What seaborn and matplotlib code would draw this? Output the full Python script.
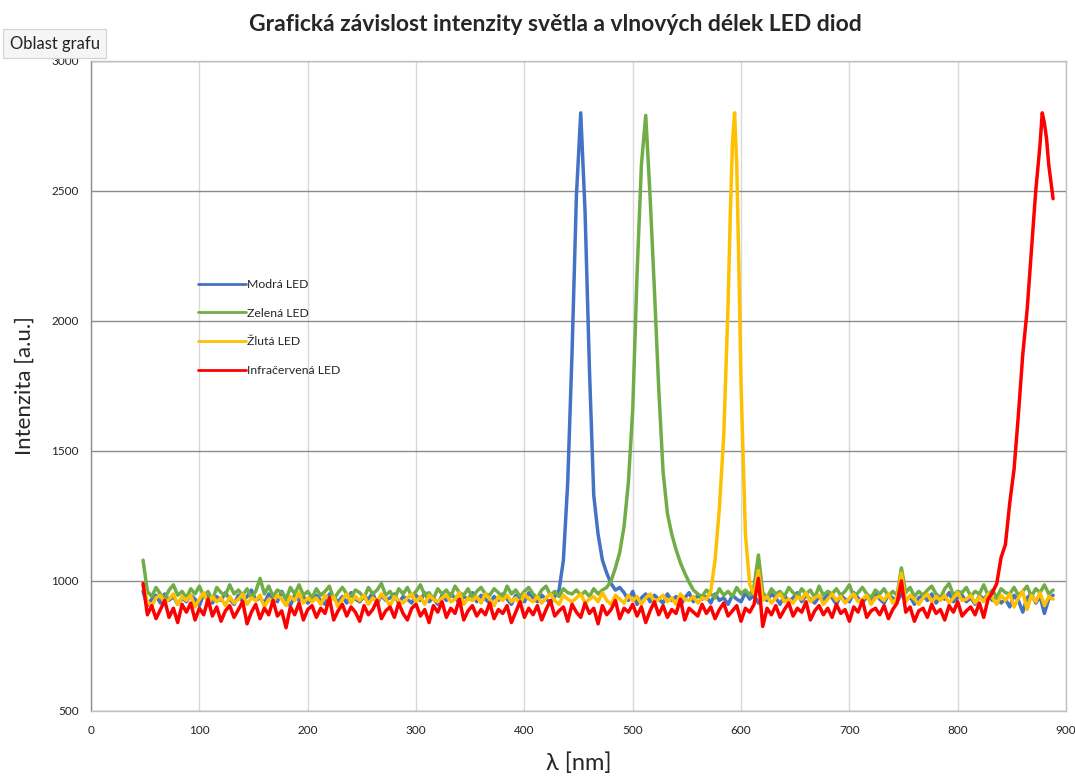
import numpy as np
import pandas as pd
import matplotlib
matplotlib.use("Agg")
import matplotlib.pyplot as plt
import seaborn as sns

start_nm = 48
step_nm = 4

blue = [
    960, 905, 930, 945, 915, 950, 925, 940, 910, 935,
    920, 945, 930, 905, 950, 935, 915, 940, 925, 955,
    930, 910, 945, 920, 940, 965, 925, 935, 915, 950,
    935, 920, 960, 930, 905, 945, 925, 940, 915, 930,
    945, 925, 910, 950, 935, 920, 940, 915, 955, 930,
    920, 940, 930, 955, 910, 945, 925, 935, 950, 915,
    940, 930, 915, 945, 925, 955, 920, 935, 910, 945,
    925, 950, 935, 915, 940, 930, 955, 920, 945, 930,
    915, 940, 925, 950, 930, 910, 945, 935, 920, 955,
    935, 920, 945, 930, 915, 940, 965, 1080, 1380, 1880,
    2480, 2800, 2420, 1820, 1330, 1180, 1080, 1030, 990, 965,
    975, 955, 925, 960, 910, 935, 950, 920, 945, 930,
    915, 950, 925, 940, 905, 935, 955, 920, 945, 930,
    940, 915, 950, 925, 935, 910, 945, 930, 920, 955,
    930, 945, 915, 940, 925, 950, 935, 910, 945, 920,
    935, 955, 920, 945, 930, 915, 940, 925, 950, 935,
    910, 945, 930, 920, 955, 935, 915, 940, 925, 950,
    930, 915, 945, 935, 920, 950, 925, 940, 910, 935,
    945, 925, 950, 915, 940, 930, 955, 920, 935, 945,
    920, 935, 910, 945, 930, 950, 925, 940, 915, 930,
    900, 945, 925, 880, 935, 950, 915, 940, 875, 930,
    945,
]

green = [
    1080, 960, 940, 975, 950, 930, 965, 985, 945, 960,
    935, 970, 950, 980, 940, 960, 925, 975, 955, 945,
    985, 950, 965, 945, 970, 935, 960, 1010, 950, 980,
    940, 965, 955, 930, 975, 950, 985, 945, 960, 935,
    970, 945, 960, 980, 930, 955, 975, 950, 940, 965,
    955, 935, 975, 950, 965, 990, 945, 960, 930, 970,
    950, 975, 940, 960, 985, 945, 955, 930, 970, 950,
    965, 940, 980, 955, 945, 970, 935, 960, 975, 950,
    945, 970, 955, 935, 980, 950, 965, 940, 960, 975,
    950, 935, 965, 980, 945, 960, 940, 970, 955, 950,
    965, 945, 960, 940, 970, 950, 965, 975, 1000, 1050,
    1110, 1210, 1380, 1660, 2180, 2600, 2790, 2480, 2120, 1740,
    1420, 1260, 1180, 1120, 1070, 1030, 995, 965, 950, 940,
    965, 950, 935, 970, 945, 960, 940, 975, 950, 965,
    945, 980, 1100, 955, 935, 970, 950, 960, 940, 975,
    955, 940, 970, 950, 965, 935, 980, 945, 960, 950,
    970, 945, 960, 985, 940, 955, 975, 950, 935, 965,
    950, 970, 940, 960, 945, 1050, 955, 975, 940, 960,
    945, 965, 980, 950, 935, 970, 990, 945, 960, 955,
    975, 940, 960, 950, 985, 945, 965, 935, 970, 955,
    950, 975, 945, 960, 980, 940, 970, 955, 985, 950,
    965,
]

yellow = [
    985, 920, 905, 935, 945, 915, 930, 950, 910, 940,
    925, 945, 900, 930, 955, 915, 940, 920, 935, 905,
    940, 915, 930, 950, 910, 935, 925, 945, 900, 930,
    920, 945, 930, 905, 940, 925, 955, 915, 935, 920,
    935, 910, 945, 925, 940, 900, 930, 950, 915, 940,
    925, 945, 910, 935, 920, 950, 930, 905, 940, 925,
    915, 935, 950, 920, 940, 910, 945, 930, 920, 935,
    945, 920, 930, 955, 910, 935, 925, 940, 915, 950,
    930, 905, 940, 925, 945, 920, 935, 910, 950, 930,
    920, 940, 915, 935, 950, 925, 910, 945, 930, 920,
    935, 950, 915, 930, 940, 920, 955, 925, 910, 945,
    930, 915, 945, 925, 940, 910, 935, 950, 920, 930,
    945, 920, 935, 910, 950, 930, 925, 940, 915, 935,
    930, 960, 1080, 1280, 1560, 2060, 2680, 2600, 1750, 1180,
    985, 950, 1040, 925, 940, 915, 935, 950, 920, 930,
    915, 940, 930, 955, 920, 935, 945, 910, 930, 950,
    925, 940, 915, 935, 950, 920, 930, 945, 910, 935,
    940, 925, 950, 915, 935, 1030, 920, 945, 930, 910,
    935, 950, 920, 940, 925, 945, 915, 935, 955, 925,
    930, 945, 915, 940, 920, 950, 935, 910, 945, 925,
    950, 900, 935, 960, 890, 945, 920, 955, 905, 940,
    930,
]

red = [
    990, 870, 905, 855, 890, 925, 860, 895, 840, 910,
    880, 915, 850, 895, 870, 930, 865, 900, 845, 885,
    905, 860, 890, 920, 835, 880, 910, 855, 895, 870,
    925, 865, 885, 820, 900, 870, 915, 850, 890, 905,
    860, 895, 875, 935, 850, 885, 910, 865, 900, 880,
    845, 905, 870, 890, 925, 855, 885, 900, 860, 915,
    875, 850, 895, 910, 865, 890, 840, 905, 880, 920,
    860, 895, 875, 930, 850, 885, 905, 865, 890, 870,
    915, 855, 890, 875, 905, 840, 880, 920, 860, 895,
    870, 905, 850, 890, 925, 865, 885, 900, 845, 910,
    880, 860, 915, 875, 895, 835, 905, 870, 890, 925,
    855, 895, 880, 910, 865, 900, 840, 885, 920, 870,
    905, 860, 890, 875, 930, 850, 895, 880, 865, 910,
    875, 900, 855, 890, 915, 865, 885, 905, 845, 895,
    880, 910, 1010, 825, 895, 870, 905, 860, 890, 915,
    865, 895, 880, 920, 850, 885, 905, 870, 895, 860,
    910, 875, 890, 845, 900, 880, 925, 860, 885, 895,
    870, 905, 855, 890, 915, 1000, 880, 900, 845, 885,
    895, 860, 910, 875, 890, 850, 905, 880, 920, 865,
    885, 900, 870, 915, 860, 930, 955, 990, 1090, 1140,
    1300, 1430, 1640, 1870, 2040, 2270, 2500, 2680, 2760, 2600,
    2470,
]

# extra samples at the tops of the narrow peaks
yellow_extra_x = [590, 594, 598]
yellow_extra_y = [2400, 2800, 2200]
red_extra_x = [878, 882]
red_extra_y = [2800, 2700]

labels = ["Modrá LED", "Zelená LED", "Žlutá LED", "Infračervená LED"]
colors = ["#4472C4", "#70AD47", "#FFC000", "#FF0000"]

series = {
    labels[0]: (blue, [], []),
    labels[1]: (green, [], []),
    labels[2]: (yellow, yellow_extra_x, yellow_extra_y),
    labels[3]: (red, red_extra_x, red_extra_y),
}

frames = []
for name, (vals, ex, ey) in series.items():
    x = start_nm + step_nm * np.arange(len(vals))
    frames.append(pd.DataFrame({
        "nm": np.r_[x, ex],
        "intensity": np.r_[vals, ey],
        "led": name,
    }))
df = pd.concat(frames, ignore_index=True).sort_values(["led", "nm"])

sns.set_style("white")
plt.rcParams["font.family"] = ["Lato", "DejaVu Sans"]

fig = plt.figure(figsize=(10.75, 7.8), dpi=100)
ax = fig.add_axes([0.0847, 0.0885, 0.907, 0.8335])

sns.lineplot(data=df, x="nm", y="intensity", hue="led", hue_order=labels,
             palette=colors, estimator=None, sort=True, linewidth=2.5, ax=ax)

ax.set_xlim(0, 900)
ax.set_ylim(500, 3000)
ax.set_xticks(range(0, 901, 100))
ax.set_yticks(range(500, 3001, 500))
ax.tick_params(length=0, labelsize=8.5, colors="#222222")
ax.tick_params(axis="x", pad=10)
ax.tick_params(axis="y", pad=9)

ax.xaxis.grid(True, color="#d9d9d9", linewidth=1.0)
ax.yaxis.grid(True, color="#8c8c8c", linewidth=1.0)
ax.set_axisbelow(True)
for side, sp in ax.spines.items():
    sp.set_visible(True)
    sp.set_color("#bfbfbf")
    sp.set_linewidth(1.0)
ax.spines["left"].set_color("#8c8c8c")

ax.set_xlabel("λ [nm]", fontsize=17, labelpad=12)
ax.set_ylabel("Intenzita [a.u.]", fontsize=16, labelpad=12)

fig.text(0.517, 0.968, "Grafická závislost intenzity světla a vlnových délek LED diod",
         ha="center", va="center", fontsize=16.5, fontweight="bold")

fig.text(0.009, 0.944, "Oblast grafu", ha="left", va="center", fontsize=12,
         color="#222222",
         bbox=dict(boxstyle="square,pad=0.4", facecolor="#f5f5f5",
                   edgecolor="#d0d0d0", linewidth=0.8))

leg = ax.legend(loc="upper left", bbox_to_anchor=(0.105, 0.672), frameon=False,
                fontsize=8.8, handlelength=3.9, handletextpad=0.1,
                labelspacing=1.45, borderaxespad=0)
for line in leg.get_lines():
    line.set_linewidth(2.0)

fig.savefig("out.png", dpi=100)
